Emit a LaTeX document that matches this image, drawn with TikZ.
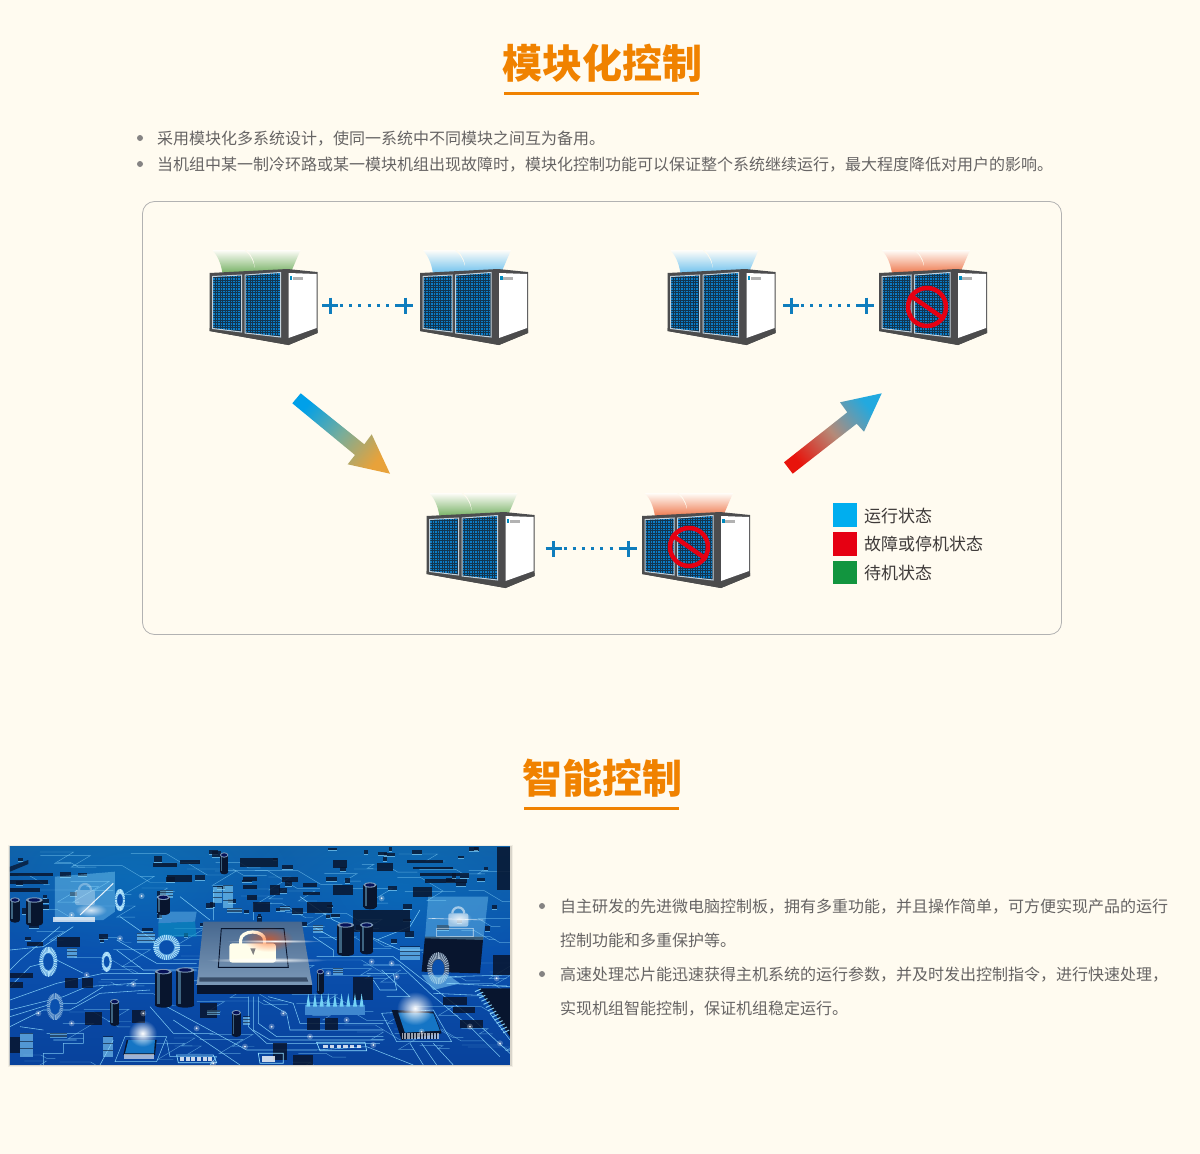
\documentclass[tikz,border=0pt]{standalone}
\usepackage{fontspec}
\setmainfont{Noto Sans CJK SC}
\usetikzlibrary{fadings,calc}
\definecolor{pagebg}{HTML}{FFFBF0}
\definecolor{titleor}{HTML}{F08200}
\definecolor{bodygray}{HTML}{666464}
\definecolor{legendtx}{HTML}{3E3A39}
\definecolor{frameg}{HTML}{4C4C4E}
\definecolor{plusblue}{HTML}{0F7DBD}
\definecolor{runblue}{HTML}{00AEEF}
\definecolor{failred}{HTML}{E60012}
\definecolor{idlegreen}{HTML}{12953F}
\definecolor{fanG}{HTML}{76B165}
\definecolor{fanB}{HTML}{70C2EE}
\definecolor{fanR}{HTML}{EE7A50}
\definecolor{trc}{HTML}{8FDCFF}
\definecolor{darkc}{HTML}{08152E}
\definecolor{cellblue}{HTML}{0A7CC8}
\definecolor{celldark}{HTML}{123650}
\definecolor{panelrim}{HTML}{C4D2DC}
\definecolor{boardtop}{HTML}{1060A8}
\definecolor{boardmid}{HTML}{0A50AE}
\definecolor{boardbot}{HTML}{08429C}
\definecolor{chiptop}{HTML}{47688F}
\definecolor{chipbot}{HTML}{7C99B8}
\definecolor{arA}{HTML}{00A0E9}
\definecolor{arB}{HTML}{78AD9A}
\definecolor{arC}{HTML}{E8A23A}
\definecolor{arD}{HTML}{E8140C}
\definecolor{arE}{HTML}{B58A78}
\definecolor{arF}{HTML}{22A9DF}
\tikzset{
 titlefont/.style={font=\fontsize{40}{40}\selectfont\bfseries,text=titleor,anchor=base,inner sep=0pt},
 bodytext/.style={font=\fontsize{16}{16}\selectfont,text=bodygray,anchor=base west,inner sep=0pt},
 legendtext/.style={font=\fontsize{17}{17}\selectfont,text=legendtx,anchor=base west,inner sep=0pt},
 bulletdot/.style={fill=bodygray!80,draw=none,circle,minimum size=6pt,inner sep=0pt},
 rule/.style={titleor,line width=3pt},
 plusbar/.style={plusblue,line width=3pt},
 plusdots/.style={plusblue,line width=3pt,dash pattern=on 3pt off 6.2pt},
 trace/.style={trc,line width=.55pt,opacity=.85},
 tracefaint/.style={trc,line width=.45pt,opacity=.55},
 glow/.style={fill=white,path fading=fade out},
}
\tikzfading[name=fade out,inner color=transparent!0,outer color=transparent!100]
% #1 name, #2 x, #3 y (body top), #4 fan colour
\newcommand{\acunit}[4]{%
 \begin{scope}[shift={(#2,#3)}]
  \coordinate (#1) at (54,37);
  \shade[top color=white!60!pagebg,bottom color=#4] (3,-20) .. controls (8,-14) and (11,-8) .. (13,3) -- (46,3) .. controls (45,-8) and (41,-15) .. (35,-20) -- cycle;
  \shade[top color=white!60!pagebg,bottom color=#4] (37,-20) .. controls (43,-14) and (46,-8) .. (45,3) -- (82,1) -- (91,-20) -- cycle;
  \fill[frameg] (0,3) -- (78,-1) -- (108,2) -- (108,63) -- (79,75) -- (0,61) -- cycle;
  \fill[black!70] (0,58) -- (79,70) -- (108,60) -- (108,63) -- (79,75) -- (0,61) -- cycle;
  \fill[white] (79,3) -- (107,4) -- (107,58) -- (79,68) -- cycle;
  \fill[runblue!80!black] (80,6) rectangle (82.5,10);
  \fill[gray!60] (83,7) rectangle (93,9.5);
  \foreach \xa/\ya/\xb/\yb/\yc/\yd in {3/6.5/32/5/62/58.5,35.5/5/71/2.5/67/63}{
   \begin{scope}
    \path[clip] (\xa,\ya) -- (\xb,\yb) -- (\xb,\yc) -- (\xa,\yd) -- cycle;
    \fill[cellblue] (\xa,\yb-1) rectangle (\xb,\yc+1);
    \foreach \gx in {0,2.5,...,38}{\draw[line width=.55pt,color=celldark] (\xa+\gx,\yb-1) -- (\xa+\gx,\yc+1);}
    \foreach \gy in {0,2.5,...,66}{\draw[line width=.55pt,color=celldark] (\xa,\yb+\gy) -- (\xb,\yb+\gy);}
   \end{scope}
   \draw[line width=1pt,color=panelrim] (\xa,\ya) -- (\xb,\yb) -- (\xb,\yc) -- (\xa,\yd) -- cycle;
  }
 \end{scope}}
\newcommand{\nosign}[3]{%
 \node[draw=failred,line width=4.5pt,circle,minimum size=38pt,inner sep=0pt] (#1) at (#2,#3) {};
 \draw[failred,line width=4.5pt] (#1.145) -- (#1.-35);}
\newcommand{\pluslink}[3]{%
 \coordinate (#1a) at (#2,#3); \coordinate (#1b) at (#2+75,#3);
 \draw[plusbar] ($(#1a)+(-8,0)$) -- ($(#1a)+(8,0)$) ($(#1a)+(0,-8)$) -- ($(#1a)+(0,8)$);
 \draw[plusbar] ($(#1b)+(-8,0)$) -- ($(#1b)+(8,0)$) ($(#1b)+(0,-8)$) -- ($(#1b)+(0,8)$);
 \draw[plusdots] ($(#1a)+(10,0)$) -- ($(#1b)+(-8,0)$);}
\begin{document}
\begin{tikzpicture}[x=1pt,y=-1pt]
\useasboundingbox (0,0) rectangle (1200,1154);
\fill[pagebg] (0,0) rectangle (1200,1154);
% headings
\node[titlefont] (t1) at (602.5,78.5) {模块化控制};
\draw[rule] (504,93.5) -- (699,93.5);
\node[titlefont] (t2) at (602.5,793) {智能控制};
\draw[rule] (524,808.5) -- (679,808.5);
% first text
\node[bulletdot] (b1) at (140,138) {};
\node[bodytext] (l1) at (157,144.2) {采用模块化多系统设计，使同一系统中不同模块之间互为备用。};
\node[bulletdot] (b2) at (140,164) {};
\node[bodytext] (l2) at (157,170.2) {当机组中某一制冷环路或某一模块机组出现故障时，模块化控制功能可以保证整个系统继续运行，最大程度降低对用户的影响。};
% panel
\draw[black!30,line width=.8pt,rounded corners=12pt] (142.5,201.5) rectangle (1061.5,634.5);
% units
\acunit{u1}{209.5}{270}{fanG}
\acunit{u2}{420}{270}{fanB}
\acunit{u3}{667.5}{270}{fanB}
\acunit{u4}{879}{270}{fanR}
\acunit{u5}{426.5}{513}{fanG}
\acunit{u6}{642}{513}{fanR}
\nosign{s1}{927}{307}
\nosign{s2}{689}{547}
\pluslink{k1}{330}{305.5}
\pluslink{k2}{791}{305.5}
\pluslink{k3}{553.5}{548.5}
% state arrows
\shade[top color=arC,bottom color=arA,middle color=arB,shading angle=-130]
 (292.3,403.3) -- (300.7,393.3) -- (364.3,444.3) -- (371.7,434.3) -- (390,473.7) -- (347.7,464.3) -- (355,455) -- cycle;
\shade[top color=arF,bottom color=arD,middle color=arE,shading angle=-50]
 (784,462.3) -- (847.3,412.3) -- (840,402.3) -- (881.7,393.3) -- (864,431.7) -- (856.7,423.7) -- (792.7,473.7) -- cycle;
% legend
\fill[runblue] (833,503) rectangle (857,527);
\fill[failred] (833,532) rectangle (857,555.5);
\fill[idlegreen] (833,561) rectangle (857,584);
\node[legendtext] (g1) at (864,522) {运行状态};
\node[legendtext] (g2) at (864,550.5) {故障或停机状态};
\node[legendtext] (g3) at (864,579.5) {待机状态};
% second text
\node[bulletdot] (b3) at (542,906) {};
\node[bodytext] (m1) at (560,912.2) {自主研发的先进微电脑控制板，拥有多重功能，并且操作简单，可方便实现产品的运行};
\node[bodytext] (m2) at (560,946.2) {控制功能和多重保护等。};
\node[bulletdot] (b4) at (542,974) {};
\node[bodytext] (m3) at (560,980.2) {高速处理芯片能迅速获得主机系统的运行参数，并及时发出控制指令，进行快速处理，};
\node[bodytext] (m4) at (560,1014.2) {实现机组智能控制，保证机组稳定运行。};
% photo shadow
\foreach \e/\o in {2/.05,1/.1}{\fill[black,opacity=\o] (10-\e,847-\e) rectangle (511+\e,1065+\e);}
% circuit board picture
\begin{scope}[shift={(0,840)},x=.3333pt,y=-.3333pt]
 \clip (30,20) rectangle (1530,675);
 \shade[top color=boardtop,bottom color=boardbot,middle color=boardmid] (30,20) rectangle (1530,675);
 \fill[cyan,opacity=.18,path fading=fade out] (-100,-150) rectangle (900,380);
 \fill[cyan,opacity=.18,path fading=fade out] (700,-100) rectangle (1700,420);
 % fine random traces
 \pgfmathsetseed{11}
 \foreach \i in {1,...,110}{
  \pgfmathsetmacro\rx{random(30,1480)}\pgfmathsetmacro\ry{random(20,670)}
  \pgfmathsetmacro\la{random(30,150)}\pgfmathsetmacro\lb{random(15,90)}\pgfmathsetmacro\sg{2*random(0,1)-1}
  \draw[tracefaint] (\rx,\ry) -- ++(\la,0) -- ++(\sg*\lb,.6*\lb) -- ++(.5*\la,0);}
 % traces
 \draw[trace] (30,480) -- (170,430) -- (310,400) -- (470,400) (30,510) -- (190,470) -- (260,440) -- (400,430) -- (480,430)
  (30,560) -- (130,510) -- (210,510) -- (300,460) -- (450,450) (30,530) -- (160,490) -- (230,490) -- (310,440)
  (500,500) -- (740,630) -- (950,630) -- (1100,620) -- (1240,675) (520,540) -- (720,675) (450,500) -- (520,580) -- (640,580)
  (745,470) -- (745,560) -- (800,610) -- (1140,610) (760,470) -- (760,570) -- (810,600) -- (1150,600) (775,470) -- (775,550) -- (830,590) -- (1150,590)
  (790,480) -- (860,520) -- (870,570) -- (1150,570) (805,470) -- (880,490) -- (900,550) -- (1150,550)
  (950,350) -- (1180,350) -- (1270,420) -- (1400,520) -- (1530,640) (1090,375) -- (1200,375) -- (1290,460) -- (1420,570) -- (1500,650)
  (1100,400) -- (1180,400) -- (1190,450) -- (1140,450) -- (1120,420) (1145,390) -- (1230,470) -- (1160,470)
  (1340,430) -- (1530,440) (1300,460) -- (1530,470) (1350,410) -- (1530,405)
  (540,170) -- (630,240) (640,150) -- (640,240) (760,240) -- (760,190) (900,170) -- (1000,240) -- (1200,330) -- (1270,330)
  (180,260) -- (60,360) -- (30,390) (220,260) -- (130,320) -- (30,330) (30,440) -- (90,380) -- (170,360) -- (250,400)
  (350,330) -- (430,390) -- (590,390) (350,300) -- (470,370) -- (590,370) (360,230) -- (460,300) -- (470,340)
  (940,260) -- (1010,300) (940,290) -- (1000,330) -- (1000,350) (1130,300) -- (1230,260) -- (1260,210)
  (1230,610) -- (1270,675) (1265,610) -- (1310,675) (1300,610) -- (1360,675) (1530,600) -- (1470,520)
  (140,580) -- (250,580) -- (250,610) -- (190,610) -- (190,640) -- (130,640) -- (130,675) (160,600) -- (230,600)
  (340,600) -- (300,675) (500,600) -- (510,650) -- (650,650) -- (630,675) (60,560) -- (130,570);
 % random small parts in the upper half
 \pgfmathsetseed{5}
 \foreach \i in {1,...,75}{
  \pgfmathsetmacro\rx{random(30,1500)}\pgfmathsetmacro\ry{random(20,300)}
  \pgfmathsetmacro\rw{random(10,34)}\pgfmathsetmacro\rh{random(6,16)}
  \fill[darkc,opacity=.8] (\rx,\ry) rectangle ++(\rw,\rh);
  \fill[trc,opacity=.6] (\rx,\ry+\rh) rectangle ++(\rw,3);}
 % dark components
 \fill[darkc,opacity=.75] (30,80) -- (85,60) -- (85,72) -- (30,95) -- cycle;
 \foreach \x/\y/\w/\h in {720/55/115/25,460/70/70/12,500/105/75/22,540/60/60/12,30/100/130/8,30/120/115/12,30/145/90/12,1000/60/40/25,
  1130/70/50/22,1220/60/110/8,1240/80/120/8,1260/100/120/8,1275/118/125/10,1240/140/55/30,1000/135/60/30,920/185/75/35,760/185/50/30,
  845/110/50/15,910/130/40/12,910/155/50/10,730/110/40/12,730/135/40/12,740/165/30/15,810/135/30/30,1060/210/170/65,1490/20/40/130,
  170/290/70/30,80/305/50/12,30/400/70/15,30/425/40/20,195/415/40/30,245/415/35/30,255/515/50/40,395/510/40/40,920/535/40/35,975/535/40/35,
  1330/470/70/25,1360/500/65/20,1380/540/70/25,1480/345/50/60,1060/410/60/70,600/490/50/45,820/610/40/50,880/645/60/30,30/590/30/50}{
  \fill[darkc,opacity=.85] (\x,\y) rectangle ++(\w,\h);}
 % pads
 \foreach \x/\y/\w/\h in {670/135/30/70,640/140/25/50,680/205/45/14,840/200/30/12,410/280/55/30,200/325/30/30,1200/320/60/40,480/150/40/25,
  940/255/30/25,310/590/30/60,1000/385/30/20,150/580/50/15,620/510/40/15,730/530/20/25,60/580/40/70}{
  \fill[trc,opacity=.55] (\x,\y) rectangle ++(\w,\h);
  \foreach \q in {0,.33,.66}{\draw[darkc,opacity=.6,line width=.6pt] (\x,\y+\h*\q) -- ++(\w,0);}}
 % upper-left block
 \fill[trc,opacity=.35] (480,215) -- (590,215) -- (585,245) -- (475,250) -- cycle;
 \fill[boardtop!70!cyan,opacity=.6] (475,250) -- (585,245) -- (590,290) -- (475,290) -- cycle;
 % right tall block
 \fill[darkc] (1275,290) -- (1450,290) -- (1440,400) -- (1265,395) -- cycle;
 \fill[trc,opacity=.35] (1285,170) -- (1465,170) -- (1450,300) -- (1275,295) -- cycle;
 \draw[white,opacity=.7,line width=.6pt] (1285,235) -- (1450,240) (1310,265) rectangle (1420,290);
 \fill[white,opacity=.5,rounded corners=2pt] (1345,220) rectangle (1405,260);
 \draw[white,opacity=.55,line width=2.2pt] (1357,220) arc (180:360:18);
 \fill[glow,opacity=.7] (1340,215) rectangle (1415,255);
 % upper-left translucent lock
 \fill[trc,opacity=.38] (165,110) -- (345,95) -- (345,215) -- (310,240) -- (165,240) -- cycle;
 \fill[white,opacity=.3,rounded corners=2pt] (225,150) rectangle (285,195);
 \draw[white,opacity=.3,line width=2.2pt] (237,150) arc (180:360:18);
 \fill[white,opacity=.75] (160,232) rectangle (285,247);
 \draw[white,opacity=.9,line width=1pt] (240,225) -- (340,130);
 \fill[glow,opacity=.8] (225,190) rectangle (320,230);
 % heat-sink array
 \fill[cyan!55!blue!80!white] (915,495) rectangle (1095,525);
 \foreach \x in {925,945,...,1085}{\fill[cyan!55!white] (\x-6,500) -- (\x,460) -- (\x+6,500) -- cycle;}
 % central chip
 \fill[darkc] (590,435) -- (937,435) -- (937,462) -- (590,462) -- cycle;
 \shade[top color=chiptop,bottom color=chipbot] (610,245) -- (905,245) -- (937,435) -- (590,435) -- cycle;
 \fill[darkc,opacity=.55] (598,412) -- (920,412) -- (925,425) -- (598,425) -- cycle;
 \draw[darkc,line width=.9pt] (664,266) -- (852,266) -- (865,382) -- (655,382) -- cycle;
 % lock
 \draw[white!92!yellow,line width=3.2pt] (722,312) -- (722,300) arc (180:360:36 and 24) -- (794,312);
 \fill[white!92!yellow,rounded corners=3pt] (688,310) -- (828,310) -- (828,368) -- (688,368) -- cycle;
 \fill[gray] (751,325) -- (767,325) -- (760,345) -- cycle;
 \fill[orange!60!red,opacity=.6,path fading=fade out] (730,260) rectangle (880,335);
 \fill[white,path fading=fade out] (620,352) rectangle (980,368);
 \fill[white,path fading=fade out] (680,298) rectangle (970,308);
 % capacitors
 \foreach \x/\y/\w/\h in {465/395/50/100,528/390/55/105,1012/255/50/85,1080/255/40/80,330/485/28/65,470/172/40/45,1090/135/40/65,695/518/28/65,30/180/30/60,78/180/50/70,660/45/25/50,950/395/22/60}{
  \fill[darkc] (\x,\y) rectangle ++(\w,\h);
  \fill[darkc] (\x+.5*\w,\y+\h) circle [x radius=.5*\w,y radius=8];
  \fill[trc,opacity=.4] (\x+.12*\w,\y+6) rectangle ++(.16*\w,\h-8);
  \fill[chipbot] (\x+.5*\w,\y) circle [x radius=.5*\w,y radius=8];
  \fill[darkc!80!blue] (\x+.5*\w,\y) circle [x radius=.36*\w,y radius=5];}
 % coils
 \foreach \cx/\cy/\a/\b/\c in {500/322/40/38/trc,145/365/27/45/trc,1315/385/33/48/chipbot,320/365/15/30/trc,360/180/15/33/trc,165/500/25/40/boardbot!60!trc}{
  \fill[\c,opacity=.45] (\cx,\cy) circle [x radius=\a,y radius=\b];
  \foreach \t in {0,10,...,350}{\draw[\c!60!white,line width=.8pt,opacity=.9] ({\cx+.6*\a*cos(\t)},{\cy+.6*\b*sin(\t)}) -- ({\cx+\a*cos(\t)},{\cy+\b*sin(\t)});}
  \fill[boardmid] (\cx,\cy) circle [x radius=.55*\a,y radius=.55*\b];
 }
 \fill[trc,opacity=.5] (1265,405) -- (1345,405) -- (1380,430) -- (1300,450) -- cycle;
 % lower right chip
 \draw[trace] (1145,520) -- (1300,510) -- (1355,605) -- (1190,605) -- cycle;
 \fill[darkc] (1175,510) -- (1300,515) -- (1325,580) -- (1205,600) -- cycle;
 \fill[cyan!55!blue] (1195,518) -- (1300,520) -- (1320,572) -- (1215,578) -- cycle;
 \fill[white,opacity=.6] (1205,580) rectangle (1318,596);
 \foreach \x in {1210,1220,...,1310}{\draw[darkc,line width=.6pt] (\x,580) -- (\x,596);}
 \fill[glow] (1190,455) rectangle (1300,555);
 % lower chip
 \draw[trace] (375,590) -- (500,590) -- (470,665) -- (345,665) -- cycle;
 \fill[darkc] (380,600) -- (470,600) -- (465,645) -- (370,645) -- cycle;
 \fill[cyan!55!blue] (385,600) -- (465,600) -- (462,640) -- (375,640) -- cycle;
 \fill[white,opacity=.6] (372,642) rectangle (462,658);
 \fill[glow] (385,540) rectangle (470,620);
 % right edge IC
 \fill[darkc] (1435,445) -- (1530,445) -- (1530,590) -- cycle;
 \foreach \i in {0,1,...,13}{\draw[trc,line width=1pt,opacity=.9] (1425+\i*6.5,455+\i*9.5) -- ++(18,-8);}
 % printed marks
 \draw[trc,line width=.7pt] (950,607) -- (1095,607) -- (1100,632) -- (960,632) -- cycle (530,645) -- (640,645) -- (650,668) -- (535,668) -- cycle (775,640) -- (850,640) -- (850,670) -- (780,670) -- cycle;
 \foreach \x in {970,990,...,1080}{\fill[white,opacity=.8] (\x,615) rectangle ++(13,9);}
 \foreach \x in {540,557,...,625}{\fill[white,opacity=.8] (\x,651) rectangle ++(12,11);}
 \fill[white,opacity=.8] (785,648) rectangle (825,665);
 % sparkle dots
 \foreach \x/\y in {115/520,400/433,260/405,215/550,590/565,735/620,930/590,1115/365,1175/370,1120/615,1490/415,1500/610,1265/575,985/400,425/168,215/225,1145/175,360/295,815/560,430/520,1410/560,1040/540,1190/410,850/520,640/670}{
  \fill[white,opacity=.25] (\x,\y) circle [radius=9];
  \fill[white,opacity=.9] (\x,\y) circle [radius=3];}
\end{scope}
\end{tikzpicture}
\end{document}
